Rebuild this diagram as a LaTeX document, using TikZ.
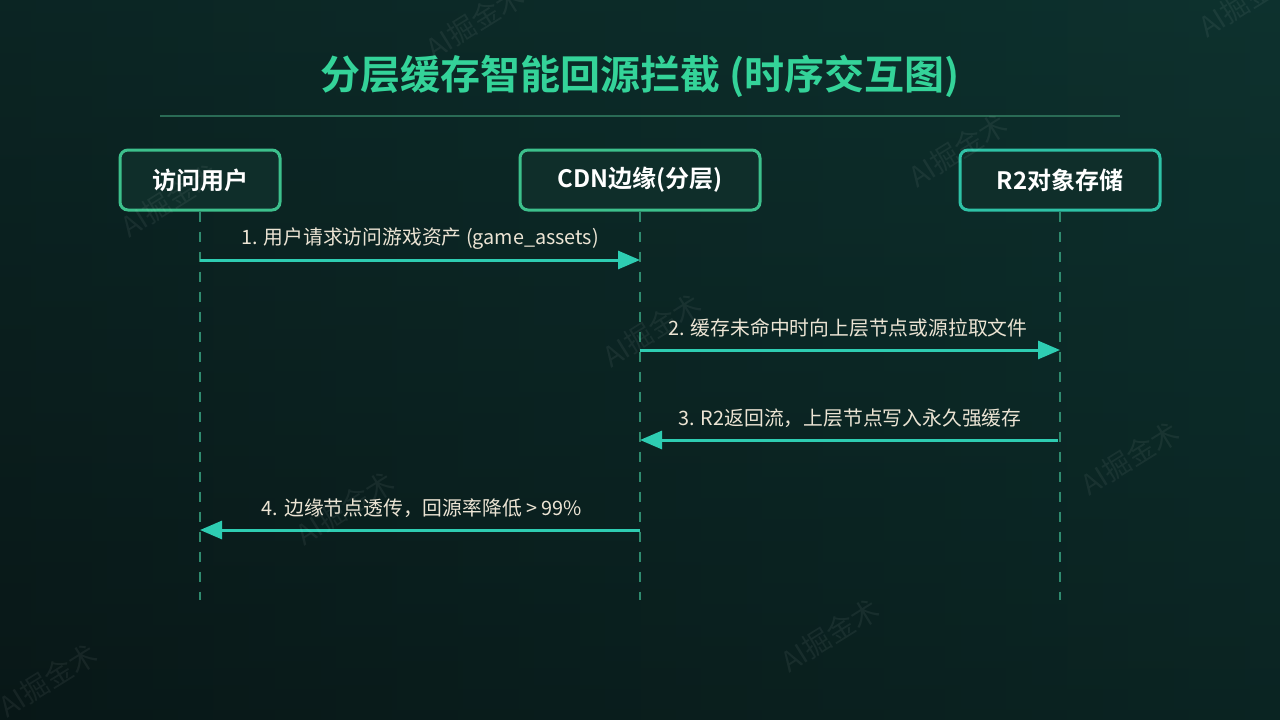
\documentclass[tikz,border=0pt]{standalone}
\usepackage{fontspec}
\setmainfont{Noto Sans CJK SC}
\newfontfamily\cjkb{Noto Sans CJK SC Bold}
\usetikzlibrary{arrows.meta}
\definecolor{bgL}{HTML}{0A1B1B}
\definecolor{bgR}{HTML}{0D302D}
\definecolor{bgT}{HTML}{0E3430}
\definecolor{bgB}{HTML}{071212}
\definecolor{titlegreen}{HTML}{34D399}
\definecolor{rulegreen}{HTML}{2A6B55}
\definecolor{boxfill}{HTML}{0F2E2A}
\definecolor{boxgreen}{HTML}{3DC08C}
\definecolor{boxteal}{HTML}{2EC2A6}
\definecolor{lifeline}{HTML}{2F8A6E}
\definecolor{msgline}{HTML}{2ECDB2}
\definecolor{labeltxt}{HTML}{ECE4D4}
\tikzset{
  actor/.style={draw=boxgreen, line width=3pt, fill=boxfill, rounded corners=8pt,
    minimum height=60pt, text=white, font=\cjkb\fontsize{24}{28}\selectfont, inner sep=0pt},
  life/.style={lifeline, line width=1.6pt, dash pattern=on 10pt off 10pt},
  msg/.style={msgline, line width=3pt, -{Triangle[length=22pt,width=18pt]}},
  msglabel/.style={text=labeltxt, font=\fontsize{19.8}{23}\selectfont, inner sep=0pt},
  wm/.style={text=white, opacity=0.06, rotate=32, font=\fontsize{28}{32}\selectfont, inner sep=0pt}
}
\begin{document}
\begin{tikzpicture}[x=1pt,y=-1pt]
\useasboundingbox (0,0) rectangle (1280,720);
\shade[left color=bgL, right color=bgR] (0,0) rectangle (1280,720);
\shade[top color=bgT, bottom color=bgB, opacity=0.4] (0,0) rectangle (1280,720);
% title
\node[text=titlegreen, font=\cjkb\fontsize{40}{46}\selectfont, inner sep=0pt] (title) at (640,76) {分层缓存智能回源拦截 (时序交互图)};
\coordinate (rl) at (160,116);
\coordinate (rr) at (1120,116);
\draw[rulegreen, line width=1.5pt] (rl) -- (rr);
% actors
\node[actor, minimum width=160pt] (user) at (200,180) {访问用户};
\node[actor, minimum width=240pt] (cdn) at (640,180) {CDN边缘(分层)};
\node[actor, draw=boxteal, minimum width=200pt] (r2) at (1060,180) {R2对象存储};
% lifeline ends
\coordinate (userend) at (200,600);
\coordinate (cdnend) at (640,600);
\coordinate (r2end) at (1060,600);
\draw[life] (user.south) -- (userend);
\draw[life] (cdn.south) -- (cdnend);
\draw[life] (r2.south) -- (r2end);
% message anchors
\coordinate (u1) at (200,260); \coordinate (c1) at (640,260);
\coordinate (c2) at (640,350); \coordinate (r2a) at (1060,350);
\coordinate (r3) at (1058,440); \coordinate (c3) at (640,440);
\coordinate (c4) at (640,530); \coordinate (u4) at (200,530);
\draw[msg] (u1) -- (c1);
\draw[msg] (c2) -- (r2a);
\draw[msg] (r3) -- (c3);
\draw[msg] (c4) -- (u4);
\node[msglabel] (l1) at (420,239) {1. 用户请求访问游戏资产 (game\_assets)};
\node[msglabel] (l2) at (848,328) {2. 缓存未命中时向上层节点或源拉取文件};
\node[msglabel] (l3) at (850,418) {3. R2返回流，上层节点写入永久强缓存};
\node[msglabel] (l4) at (422,508) {4. 边缘节点透传，回源率降低 > 99\%};
% watermarks
\node[wm] (w1) at (475,22) {AI掘金术};
\node[wm] (w2) at (170,200) {AI掘金术};
\node[wm] (w3) at (958,150) {AI掘金术};
\node[wm] (w4) at (652,330) {AI掘金术};
\node[wm] (w5) at (1130,458) {AI掘金术};
\node[wm] (w6) at (345,508) {AI掘金术};
\node[wm] (w7) at (830,635) {AI掘金术};
\node[wm] (w8) at (48,680) {AI掘金术};
\node[wm] (w9) at (1248,0) {AI掘金术};
\end{tikzpicture}
\end{document}
